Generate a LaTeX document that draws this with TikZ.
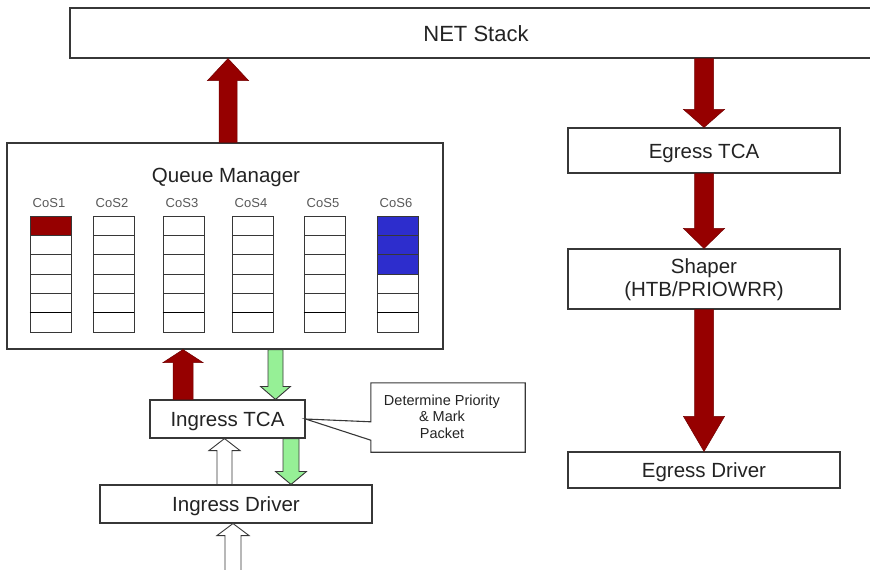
\documentclass[tikz,border=0pt]{standalone}
\usepackage{fontspec}
\setmainfont{Liberation Sans}
\usetikzlibrary{calc}
\definecolor{darkred}{RGB}{150,0,0}
\definecolor{qblue}{RGB}{45,45,205}
\definecolor{lgreen}{RGB}{150,240,150}
\definecolor{edge}{RGB}{55,55,55}
\definecolor{txt}{RGB}{35,35,35}
\newcommand\blockup[6]{\path[#1] let \p1=(#2), \p2=(#3) in
  (\x1-#4,\y1) -- (\x1-#4,\y2-#6) -- (\x1-#5,\y2-#6) -- (\x1,\y2) -- (\x1+#5,\y2-#6) -- (\x1+#4,\y2-#6) -- (\x1+#4,\y1) -- cycle;}
\newcommand\blockdown[6]{\path[#1] let \p1=(#2), \p2=(#3) in
  (\x1-#4,\y1) -- (\x1-#4,\y2+#6) -- (\x1-#5,\y2+#6) -- (\x1,\y2) -- (\x1+#5,\y2+#6) -- (\x1+#4,\y2+#6) -- (\x1+#4,\y1) -- cycle;}
\tikzset{
  box/.style={draw=edge, line width=1.1pt, fill=white, font=\fontsize{20.5}{23}\selectfont, text=txt, inner sep=0pt, align=center},
  onebox/.style={box, text height=15pt, text depth=0pt},
  redarr/.style={fill=darkred, draw=darkred!75!black, line width=0.5pt},
  greenarr/.style={fill=lgreen, draw=edge, line width=0.9pt},
  whitearr/.style={fill=white, draw=edge, line width=0.9pt},
  cell/.style={draw=edge, line width=0.8pt, minimum width=41pt, minimum height=19.33pt, inner sep=0pt},
  coslabel/.style={font=\fontsize{13}{15}\selectfont, text=black!65},
  cellfill10/.style={fill=darkred},
  cellfill60/.style={fill=qblue},
  cellfill61/.style={fill=qblue},
  cellfill62/.style={fill=qblue},
}
\begin{document}
\begin{tikzpicture}[x=1pt,y=-1pt]
\useasboundingbox (0,0) rectangle (870,570);
\clip (0,0) rectangle (870,570);
% main boxes
\node[onebox, minimum width=812pt, minimum height=50pt, font=\fontsize{22}{24}\selectfont, text height=16pt] (net) at (476,33) {NET Stack};
\node[box, minimum width=436pt, minimum height=206pt] (qm) at (225,246) {};
\node[font=\fontsize{20.5}{23}\selectfont, text=txt, text height=15pt, text depth=0pt, inner sep=0pt] (qmtitle) at (226,175) {Queue Manager};
\foreach \i/\xl in {1/30,2/93,3/163,4/232,5/304,6/377} {
  \node[coslabel] (cos\i) at (\xl+19,203) {CoS\i};
  \foreach \j in {0,...,5} {
    \node[cell, cellfill\i\j/.try] (c\i\j) at (\xl+20.5,225.67+\j*19.33) {};
  }
  \draw[line width=1.4pt, black] (c\i5.north west) -- (c\i5.north east);
}
\node[onebox, minimum width=155pt, minimum height=38pt] (itca) at (227.5,419) {Ingress TCA};
\node[onebox, minimum width=272pt, minimum height=38pt] (idrv) at (236,504) {Ingress Driver};
\node[onebox, minimum width=272pt, minimum height=45pt] (etca) at (704,150.5) {Egress TCA};
\node[box, minimum width=272pt, minimum height=60pt] (shaper) at (704,279) {};
\node[font=\fontsize{20.5}{23}\selectfont, text=txt, align=center, inner sep=0pt] (shapertext) at (704,280) {Shaper\\(HTB/PRIOWRR)};
\node[onebox, minimum width=272pt, minimum height=36pt] (edrv) at (704,470) {Egress Driver};
% callout
\node[minimum width=154pt, minimum height=69pt, inner sep=0pt] (callout) at (448,417.5) {};
\draw[draw=edge, line width=1.1pt] (callout.north west) -- (callout.north east) -- (callout.south east) -- (callout.south west) -- ($(callout.south west)+(0,-12)$) -- (itca.east) -- ($(callout.north west)+(0,39)$) -- cycle;
\node[font=\fontsize{14.5}{16.5}\selectfont, align=center, text=txt, inner sep=0pt] (callouttext) at (442,416.5) {Determine Priority\\\& Mark\\Packet};
% arrow axes
\coordinate (xa) at (228,0);
\coordinate (xb) at (704,0);
\coordinate (xc) at (183,0);
\coordinate (xd) at (275.5,0);
\coordinate (xe) at (291,0);
\coordinate (xf) at (224.5,0);
\coordinate (bot) at (233,575);
% arrows
\blockup{redarr}{qm.north -| xa}{net.south -| xa}{9pt}{20.5pt}{22pt}
\blockdown{redarr}{net.south -| xb}{etca.north -| xb}{9.5pt}{20.5pt}{18pt}
\blockdown{redarr}{etca.south -| xb}{shaper.north -| xb}{9.5pt}{20.5pt}{20pt}
\blockdown{redarr}{shaper.south -| xb}{edrv.north -| xb}{9.5pt}{20.5pt}{35pt}
\blockup{redarr}{itca.north -| xc}{qm.south -| xc}{10pt}{20pt}{13pt}
\blockdown{greenarr}{qm.south -| xd}{itca.north -| xd}{7.5pt}{15pt}{13pt}
\blockdown{greenarr}{itca.south -| xe}{idrv.north -| xe}{8pt}{15.5pt}{13pt}
\blockup{whitearr}{idrv.north -| xf}{itca.south -| xf}{7.5pt}{15.5pt}{12pt}
\blockup{whitearr}{bot}{idrv.south -| bot}{8pt}{16pt}{12pt}
\end{tikzpicture}
\end{document}
